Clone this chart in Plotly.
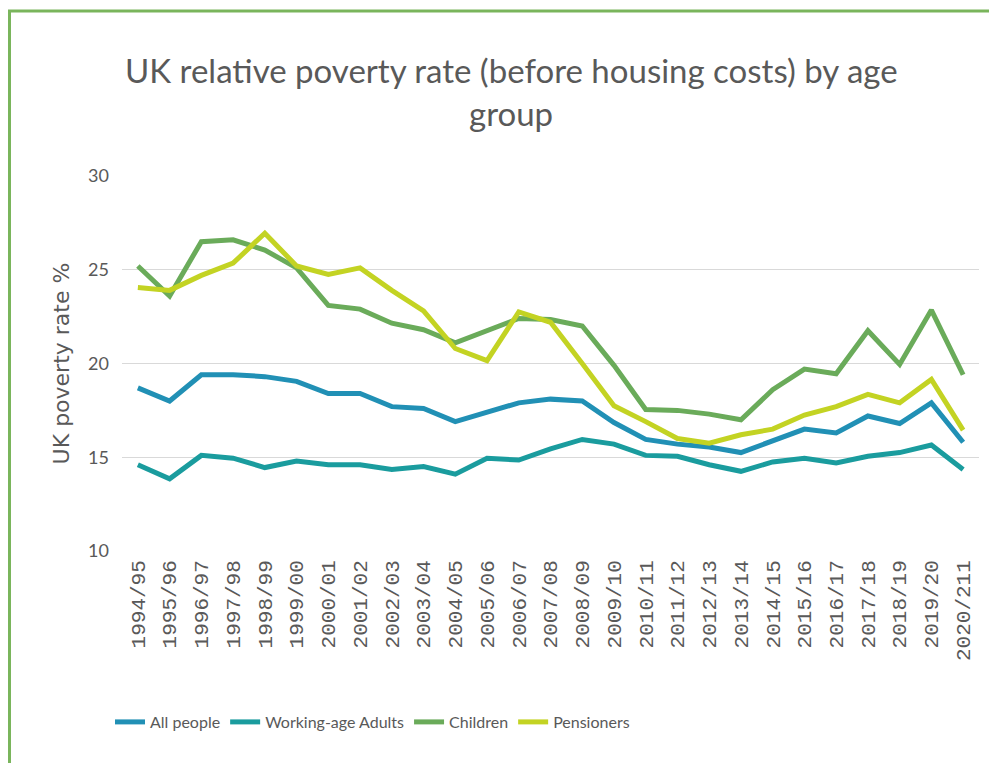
import plotly.graph_objects as go

years = ["1994/95", "1995/96", "1996/97", "1997/98", "1998/99", "1999/00", "2000/01",
         "2001/02", "2002/03", "2003/04", "2004/05", "2005/06", "2006/07", "2007/08",
         "2008/09", "2009/10", "2010/11", "2011/12", "2012/13", "2013/14", "2014/15",
         "2015/16", "2016/17", "2017/18", "2018/19", "2019/20", "2020/211"]

all_people = [18.7, 18.0, 19.4, 19.4, 19.3, 19.05, 18.4, 18.4, 17.7, 17.6, 16.9, 17.4, 17.9,
              18.1, 18.0, 16.85, 15.95, 15.7, 15.55, 15.25, 15.85, 16.5, 16.3, 17.2, 16.8,
              17.9, 15.8]
working_age = [14.6, 13.85, 15.1, 14.95, 14.45, 14.8, 14.6, 14.6, 14.35, 14.5, 14.1, 14.95,
               14.85, 15.45, 15.95, 15.7, 15.1, 15.05, 14.6, 14.25, 14.75, 14.95, 14.7, 15.05,
               15.25, 15.65, 14.35]
children = [25.2, 23.6, 26.5, 26.6, 26.05, 25.1, 23.1, 22.9, 22.15, 21.8, 21.1, 21.75, 22.4,
            22.35, 22.0, 19.9, 17.55, 17.5, 17.3, 17.0, 18.6, 19.7, 19.45, 21.75, 19.95,
            22.85, 19.4]
pensioners = [24.05, 23.9, 24.7, 25.35, 26.95, 25.2, 24.75, 25.1, 23.9, 22.8, 20.8, 20.15,
              22.75, 22.2, 20.0, 17.75, 16.9, 16.0, 15.75, 16.2, 16.5, 17.25, 17.7, 18.35,
              17.9, 19.15, 16.45]

series_names = ["All people", "Working-age Adults", "Children", "Pensioners"]
series_values = [all_people, working_age, children, pensioners]
series_colors = ["#2190b5", "#1a9c9e", "#6aab5a", "#c3d323"]

title_lines = ["UK relative poverty rate (before housing costs) by age", "group"]

sans = "Lato, Roboto, sans-serif"
grey = "#595959"

fig = go.Figure()
for name, vals, col in zip(series_names, series_values, series_colors):
    fig.add_trace(go.Scatter(x=years, y=vals, name=name, mode="lines",
                             line=dict(color=col, width=5)))

# page has an 8px body margin; figure coords = page coords - 8
OFF = 8
W, H = 989, 755
L, T = 122 - OFF, 176 - OFF
R = W - (979 - OFF)
B = H - (551 - OFF)
pw, ph = W - L - R, H - T - B

def px(x):
    return (x - OFF - L) / pw

def py(y):
    return (H - B - (y - OFF)) / ph

border = "#7ab55c"
shapes = [
    dict(type="line", xref="paper", yref="paper", x0=px(8), x1=px(1010), y0=py(11), y1=py(11),
         line=dict(color=border, width=3)),
    dict(type="line", xref="paper", yref="paper", x0=px(9.5), x1=px(9.5), y0=py(10), y1=py(775),
         line=dict(color=border, width=3)),
]

annotations = [
    dict(text=title_lines[0], xref="paper", yref="paper", x=px(511), y=py(70),
         xanchor="center", yanchor="middle", showarrow=False,
         font=dict(family=sans, size=33, color=grey)),
    dict(text=title_lines[1], xref="paper", yref="paper", x=px(511), y=py(113),
         xanchor="center", yanchor="middle", showarrow=False,
         font=dict(family=sans, size=33, color=grey)),
]

fig.update_layout(
    width=W, height=H,
    margin=dict(l=L, r=R, t=T, b=B, autoexpand=False),
    paper_bgcolor="white", plot_bgcolor="white",
    showlegend=True,
    legend=dict(orientation="h", x=px(110), xanchor="left", y=py(722), yanchor="middle",
                font=dict(family=sans, size=16, color=grey), bgcolor="rgba(0,0,0,0)"),
    xaxis=dict(type="category", tickangle=-90, showgrid=False, showline=False, ticks="",
               tickfont=dict(family="Liberation Mono, DejaVu Sans Mono, monospace", size=21, color=grey),
               range=[-0.5, len(years) - 0.5], ticklabelstandoff=4),
    yaxis=dict(range=[10, 30], tickvals=[10, 15, 20, 25, 30], showgrid=True,
               gridcolor="#d9d9d9", gridwidth=1, zeroline=False, showline=False, ticks="",
               ticklabelstandoff=12,
               tickfont=dict(family=sans, size=18, color=grey),
               title=dict(text="UK poverty rate %", standoff=12,
                          font=dict(family="DejaVu Sans, sans-serif", size=22, color=grey))),
    shapes=shapes,
    annotations=annotations,
)

fig.write_html("out.html")
